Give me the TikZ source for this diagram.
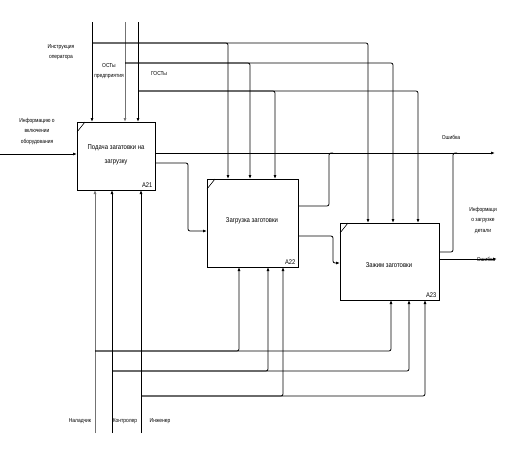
\documentclass[tikz,border=0pt]{standalone}
\usepackage{fontspec}
\setmainfont{Liberation Sans}[FakeStretch=0.85]
\usetikzlibrary{arrows.meta}
\tikzset{
  conn/.style={line width=0.8pt, rounded corners=2pt},
  arr/.style={-{Latex[length=4pt,width=3pt]}},
  graylink/.style={draw=black!55},
  funcbox/.style={draw, line width=0.8pt, inner sep=0pt, outer sep=0pt},
  boxtext/.style={inner sep=0pt, align=center, font=\fontsize{7}{14}\selectfont},
  boxid/.style={anchor=south east, inner sep=2.5pt, font=\fontsize{6.8}{7}\selectfont},
  lbl/.style={inner sep=0pt, align=center, font=\fontsize{5.8}{10.5}\selectfont}
}
\begin{document}
\begin{tikzpicture}[x=1pt,y=-1pt]
\fill[white] (0,0) rectangle (513,451);
\useasboundingbox (0,0) rectangle (513,451);

% function boxes
\node[funcbox, minimum width=78pt, minimum height=68pt] (a21) at (116,156) {};
\node[funcbox, minimum width=91pt, minimum height=88pt] (a22) at (252.5,223) {};
\node[funcbox, minimum width=99pt, minimum height=77pt] (a23) at (389.5,261.5) {};

\node[boxtext] (a21t) at (116,155) {Подача загатовки на\\загрузку};
\node[boxtext] (a22t) at (252,221) {Загрузка заготовки};
\node[boxtext] (a23t) at (389,265) {Зажим заготовки};

\node[boxid] (a21id) at (a21.south east) {A21};
\node[boxid] (a22id) at (a22.south east) {A22};
\node[boxid] (a23id) at (a23.south east) {A23};

\foreach \b in {a21,a22,a23}
  \draw[line width=0.6pt] ([yshift=-10pt]\b.north west) -- ([xshift=8pt]\b.north west);

% free ends and junctions
\coordinate (t1) at (92,22);
\coordinate (t2) at (125,22);
\coordinate (t3) at (138,22);
\coordinate (h1) at (92,43);
\coordinate (h2) at (125,63);
\coordinate (h3) at (138,91);
\coordinate (in) at (0,154);
\coordinate (err1) at (495,153);
\coordinate (err2) at (497,259);
\coordinate (b1) at (95,433);
\coordinate (b2) at (112,433);
\coordinate (b3) at (141,433);
\coordinate (m1) at (95,351);
\coordinate (m2) at (112,371);
\coordinate (m3) at (141,396);

% controls
\draw[conn,arr] (t1) -- (t1 |- a21.north);
\draw[conn,arr,graylink] (t2) -- (t2 |- a21.north);
\draw[conn,arr] (t3) -- (t3 |- a21.north);
\draw[conn,arr] (h1) -| (a22.north -| 228,0);
\draw[conn,arr] (h1) -| (a23.north -| 368,0);
\draw[conn,arr] (h2) -| (a22.north -| 250,0);
\draw[conn,arr] (h2) -| (a23.north -| 393,0);
\draw[conn,arr] (h3) -| (a22.north -| 275,0);
\draw[conn,arr] (h3) -| (a23.north -| 418,0);

% input
\draw[conn,arr] (in) -- (in -| a21.west);

% outputs
\draw[conn,arr] (a21.east |- err1) -- (err1);
\draw[conn,arr] (a21.east |- 0,163) -| (188,200) |- (a22.west |- 0,231);
\draw[conn] (a22.east |- 0,206) -| (329,153) -- (333,153);
\draw[conn,arr] (a22.east |- 0,236) -| (333,250) |- (a23.west |- 0,263);
\draw[conn] (a23.east |- 0,252) -| (453,153) -- (457,153);
\draw[conn,arr] (a23.east |- err2) -- (err2);

% mechanisms
\draw[conn,arr,graylink] (b1) -- (b1 |- a21.south);
\draw[conn,arr] (b2) -- (b2 |- a21.south);
\draw[conn,arr] (b3) -- (b3 |- a21.south);
\draw[conn,arr] (m1) -| (a22.south -| 239,0);
\draw[conn,arr] (m1) -| (a23.south -| 391,0);
\draw[conn,arr] (m2) -| (a22.south -| 268,0);
\draw[conn,arr] (m2) -| (a23.south -| 409,0);
\draw[conn,arr] (m3) -| (a22.south -| 283,0);
\draw[conn,arr] (m3) -| (a23.south -| 425,0);

% labels
\node[lbl] (l1) at (61,52) {Инструкция\\оператора};
\node[lbl] (l2) at (109,71) {ОСТы\\предприятия};
\node[lbl] (l3) at (159,73) {ГОСТы};
\node[lbl] (l4) at (37,131) {Информацию о\\включении\\оборудования};
\node[lbl] (l5) at (451,137) {Ошибка};
\node[lbl] (l6) at (483,220) {Информаци\\о загрузке\\детали};
\node[lbl] (l7) at (486,259) {Ошибка};
\node[lbl] (l8) at (80,421) {Наладчик};
\node[lbl] (l9) at (125,421) {Контролер};
\node[lbl] (l10) at (160,421) {Инженер};
\end{tikzpicture}
\end{document}
